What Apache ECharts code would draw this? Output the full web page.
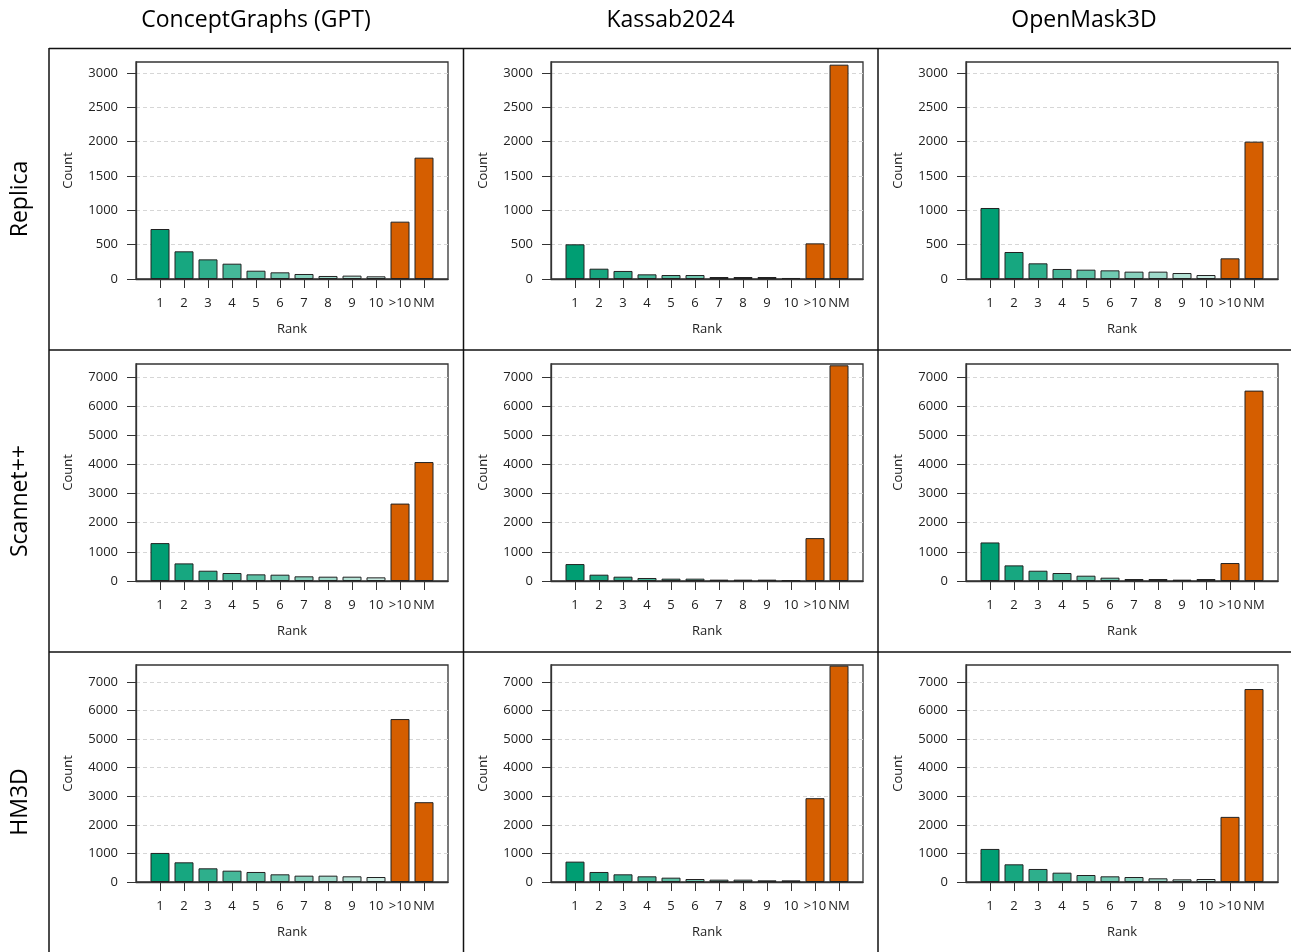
<!DOCTYPE html>
<html>
<head>
<meta charset="utf-8">
<script src="https://cdn.jsdelivr.net/npm/echarts@6/dist/echarts.min.js"></script>
<style>
html,body{margin:0;padding:0;background:#fff;}
#chart{width:1291px;height:952px;}
</style>
</head>
<body>
<div id="chart"></div>
<script>
// ---- data ----
const categories = ['1','2','3','4','5','6','7','8','9','10','>10','NM'];
const methods = ['ConceptGraphs (GPT)', 'Kassab2024', 'OpenMask3D'];
const datasets = ['Replica', 'Scannet++', 'HM3D'];

const cgReplica     = [728, 403, 286, 223, 121, 97, 73, 44, 49, 39, 835, 1767];
const kassabReplica = [505, 150, 117, 68, 58, 58, 29, 29, 29, 15, 519, 3121];
const om3dReplica   = [1034, 393, 228, 146, 136, 126, 107, 107, 87, 58, 301, 2000];

const cgScannet     = [1300, 604, 353, 274, 228, 217, 160, 148, 148, 125, 2656, 4081];
const kassabScannet = [581, 217, 148, 103, 80, 80, 46, 46, 46, 23, 1471, 7400];
const om3dScannet   = [1322, 536, 353, 274, 182, 114, 68, 68, 46, 68, 616, 6532];

const cgHM3D        = [1017, 689, 479, 397, 351, 269, 222, 222, 199, 175, 5703, 2793];
const kassabHM3D    = [713, 351, 269, 199, 152, 105, 82, 82, 58, 58, 2933, 7572];
const om3dHM3D      = [1157, 619, 456, 327, 245, 199, 175, 129, 93, 105, 2279, 6754];

const rowValues = [
  [cgReplica, kassabReplica, om3dReplica],
  [cgScannet, kassabScannet, om3dScannet],
  [cgHM3D, kassabHM3D, om3dHM3D]
];
const rowYMax = [3160, 7445, 7595];
const rowYTicks = [
  [0, 500, 1000, 1500, 2000, 2500, 3000],
  [0, 1000, 2000, 3000, 4000, 5000, 6000, 7000],
  [0, 1000, 2000, 3000, 4000, 5000, 6000, 7000]
];
const rowYInterval = [500, 1000, 1000];

// ---- style ----
const barColors = ['#009E73','#17A780','#2EAF8C','#45B899','#5CC1A5','#70C9B1','#87D1BD','#9EDACA','#B5E3D6','#CCECE3','#D55E00','#D55E00'];
const FONT = 'Open Sans';
const colLeft = [136, 551, 966];
const rowTop = [62, 364, 665];
const plotW = 312, plotH = 217;

const grids = [], xAxes = [], yAxes = [], series = [];
let k = 0;
for (let r = 0; r < 3; r++) {
  for (let c = 0; c < 3; c++) {
    grids.push({
      left: colLeft[c], top: rowTop[r], width: plotW, height: plotH,
      show: true, borderColor: '#333', borderWidth: 1.3, backgroundColor: 'transparent',
      containLabel: false
    });
    xAxes.push({
      type: 'value', gridIndex: k, min: -1, max: 12, interval: 1,
      name: 'Rank', nameLocation: 'middle', nameGap: 44,
      nameTextStyle: { fontFamily: FONT, fontSize: 13, color: '#222' },
      axisLine: { show: true, onZero: false, lineStyle: { color: '#333', width: 1.3 } },
      axisTick: { show: true, inside: false, length: 9, customValues: categories.map((_, i) => i), lineStyle: { color: '#333', width: 1 } },
      axisLabel: {
        show: true, margin: 18, customValues: categories.map((_, i) => i),
        formatter: v => categories[v] !== undefined ? categories[v] : '',
        fontFamily: FONT, fontSize: 13, color: '#222'
      },
      splitLine: { show: false }
    });
    yAxes.push({
      type: 'value', gridIndex: k, min: 0, max: rowYMax[r], interval: rowYInterval[r],
      name: 'Count', nameLocation: 'middle', nameGap: 61,
      nameTextStyle: { fontFamily: FONT, fontSize: 13, color: '#222' },
      axisLine: { show: true, onZero: false, lineStyle: { color: '#333', width: 1.3 } },
      axisTick: { show: true, inside: false, length: 9, customValues: rowYTicks[r], lineStyle: { color: '#333', width: 1 } },
      axisLabel: {
        show: true, margin: 18, customValues: rowYTicks[r],
        formatter: v => String(v),
        fontFamily: FONT, fontSize: 13, color: '#222'
      },
      splitLine: { show: true, lineStyle: { color: '#d6d6d6', width: 1, type: [4, 3] } }
    });
    series.push({
      type: 'bar', xAxisIndex: k, yAxisIndex: k,
      barWidth: 19,
      data: rowValues[r][c].map((v, i) => [i, v]),
      itemStyle: {
        color: p => barColors[p.dataIndex],
        borderColor: '#222', borderWidth: 1
      },
      animation: false
    });
    k++;
  }
}

const graphic = [];
// panel borders
const vx = [49, 463.5, 878];
vx.forEach(x => graphic.push({ type: 'line', shape: { x1: x, y1: 48, x2: x, y2: 952 }, style: { stroke: '#111', lineWidth: 1.5 }, z: 100 }));
const hy = [48.5, 350, 652];
hy.forEach(y => graphic.push({ type: 'line', shape: { x1: 49, y1: y, x2: 1291, y2: y }, style: { stroke: '#111', lineWidth: 1.5 }, z: 100 }));
// column titles
const colCenters = [256, 670.5, 1084];
methods.forEach((m, i) => graphic.push({
  type: 'text', x: colCenters[i], y: 20,
  style: { text: m, fontFamily: FONT, fontSize: 23, fill: '#000', textAlign: 'center', textVerticalAlign: 'middle' }
}));
// row titles
const rowCenters = [199, 501, 802];
datasets.forEach((d, i) => graphic.push({
  type: 'text', x: 20, y: rowCenters[i], rotation: Math.PI / 2,
  style: { text: d, fontFamily: FONT, fontSize: 23, fill: '#000', textAlign: 'center', textVerticalAlign: 'middle' }
}));

const chart = echarts.init(document.getElementById('chart'), null, { renderer: 'canvas' });
chart.setOption({
  animation: false,
  backgroundColor: '#fff',
  grid: grids,
  xAxis: xAxes,
  yAxis: yAxes,
  series: series,
  graphic: graphic
});
</script>
</body>
</html>
